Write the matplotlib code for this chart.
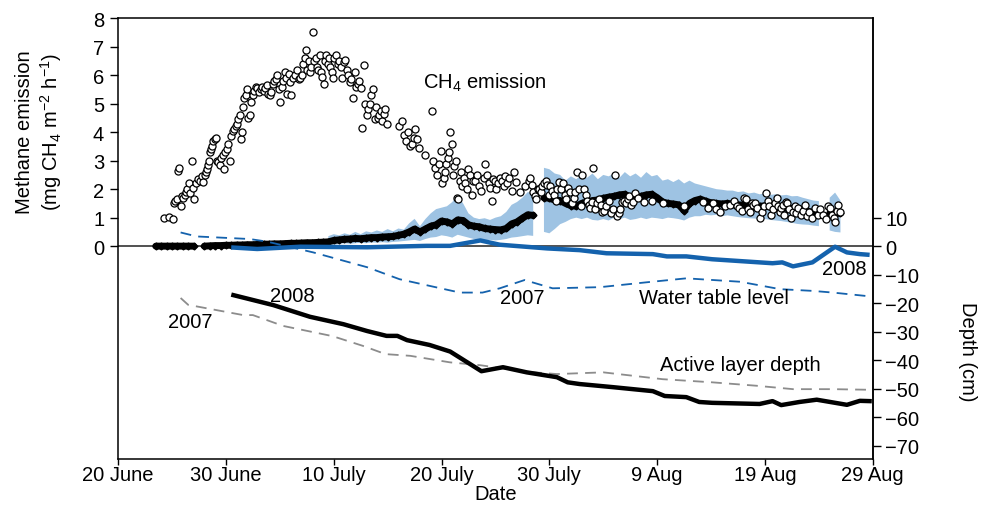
import numpy as np
import matplotlib
matplotlib.use('agg')
import matplotlib.pyplot as plt

plt.rcParams['font.family'] = ['Liberation Sans', 'DejaVu Sans']
plt.rcParams['mathtext.fontset'] = 'custom'
plt.rcParams['mathtext.rm'] = 'Liberation Sans'
plt.rcParams['mathtext.it'] = 'Liberation Sans:italic'
plt.rcParams['font.size'] = 14.5

# x axis: days after 20 June
tick_days = [0, 10, 20, 30, 40, 50, 60, 70]
tick_labels = ['20 June', '30 June', '10 July', '20 July', '30 July',
               '9 Aug', '19 Aug', '29 Aug']

# 2007 chamber fluxes (mg CH4 m-2 h-1), grouped by day
em07_days = list(range(4, 67))
em07_vals = [
    [1.0, 1.03],
    [0.95, 1.5, 1.6, 1.65, 2.65, 2.75, 1.4, 1.75],
    [1.7, 1.8, 1.9, 2.0, 2.2, 1.85, 3.0, 2.05],
    [1.65, 2.2, 2.35, 2.3, 2.45, 2.25],
    [2.5, 2.6, 2.7, 2.85, 3.0, 3.3, 3.4, 3.5, 3.7, 3.75],
    [3.8, 3.0, 2.95, 2.85, 3.1, 3.2, 2.7, 3.3],
    [3.4, 3.6, 3.0, 3.85, 4.05, 4.1, 4.2],
    [4.3, 4.45, 4.6, 3.75, 4.0, 4.9, 5.2, 5.3, 5.5],
    [4.5, 4.6, 5.05, 5.3, 5.45, 5.6, 5.55],
    [5.4, 5.5, 5.6, 5.45, 5.55, 5.65, 5.35],
    [5.3, 5.4, 5.7, 5.8, 5.85, 6.0, 5.5],
    [5.05, 5.6, 5.8, 6.1, 5.9, 5.35, 6.05, 5.75],
    [5.3, 5.9, 6.0, 6.2, 5.85, 5.9],
    [6.0, 6.4, 6.6, 6.9, 6.2, 6.5, 6.1, 6.3],
    [7.5, 6.5, 6.6, 6.3, 6.2, 6.7, 6.1, 5.95],
    [5.7, 6.5, 6.7, 6.4, 6.6, 6.3, 6.1, 5.9],
    [6.6, 6.7, 6.4, 6.5, 6.3, 5.9, 6.45],
    [6.55, 6.2, 6.0, 5.75, 5.85, 5.2, 6.1],
    [5.6, 5.7, 5.8, 5.55, 4.15, 6.35, 5.0],
    [4.6, 4.8, 5.0, 5.3, 5.5, 4.45, 4.9],
    [4.5, 4.6, 4.75, 4.4, 4.65, 4.8, 4.3],
    [],
    [4.2, 4.4, 3.9, 3.7, 4.0],
    [3.5, 3.6, 3.8, 4.1, 3.75, 3.45],
    [3.2],
    [4.75, 3.0, 2.75, 2.5, 2.9, 3.35],
    [2.2, 2.4, 2.6, 2.9, 3.1, 3.3, 4.0, 3.6],
    [2.5, 2.8, 3.0, 1.7, 1.65, 2.3, 2.6, 2.1],
    [2.4, 2.2, 2.0, 2.7, 2.5, 1.8, 2.3],
    [2.3, 2.5, 2.1, 1.95, 2.4],
    [2.87, 2.5, 2.2, 2.05, 1.6, 2.35, 2.3],
    [2.0, 2.2, 2.4, 2.3, 2.1, 2.45],
    [2.2, 2.4, 1.95, 2.6, 2.25],
    [1.9, 2.1],
    [2.3, 2.4, 2.15, 1.9, 1.75, 1.65, 2.0],
    [2.0, 1.9, 2.1, 2.2, 2.3, 2.15, 1.8],
    [2.1, 1.95, 1.8, 1.6, 2.0, 2.25],
    [2.0, 2.2, 1.8, 1.65, 2.05, 1.9],
    [1.5, 1.7, 1.9, 2.6, 2.0, 1.4],
    [2.5, 2.0, 1.8, 1.6, 1.45, 1.35, 1.55],
    [2.75, 1.3, 1.5, 1.65, 1.45, 1.2],
    [1.25, 1.4, 1.6, 1.15, 1.3],
    [2.5, 1.05, 1.15, 1.3, 1.55, 1.6],
    [1.5, 1.65, 1.75, 1.45, 1.55, 1.85],
    [1.7, 1.55],
    [1.6],
    [1.5],
    [],
    [1.4],
    [],
    [1.55, 1.35],
    [1.5, 1.3, 1.2],
    [1.4, 1.45],
    [1.6, 1.4, 1.35, 1.25],
    [1.7, 1.65, 1.3, 1.2, 1.5, 1.45],
    [1.5, 1.35, 1.0, 1.2, 1.4],
    [1.85, 1.6, 1.4, 1.1, 1.3, 1.5],
    [1.7, 1.4, 1.2, 1.35, 1.45, 1.1, 1.55],
    [1.5, 1.3, 1.0, 1.2, 1.4, 1.15],
    [1.35, 1.1, 1.25, 1.45, 1.05],
    [1.2, 1.0, 1.35, 1.1],
    [1.3, 1.1, 0.95, 1.4],
    [1.35, 1.1, 1.0, 0.85, 1.25, 1.45, 1.2],
]

# 2008 eddy covariance flux, half-day steps from day 3.5 (nan = no data)
em08_start = 3.5
em08_mid = [
    0.0, 0.0, 0.0, 0.0, 0.0, 0.0, 0.0, 0.0, np.nan, 0.0,
    0.01, 0.02, 0.02, 0.03, 0.03, 0.04, 0.04, 0.05, 0.05, 0.06,
    0.07, 0.07, 0.08, 0.08, 0.09, 0.10, 0.10, 0.11, 0.12, 0.12,
    0.13, 0.14, 0.15, 0.2, 0.22, 0.24, 0.25, 0.27, 0.26, 0.28,
    0.3, 0.3, 0.32, 0.33, 0.34, 0.38, 0.42, 0.5, 0.6, 0.5,
    0.6, 0.7, 0.75, 0.88, 0.85, 0.78, 0.92, 0.9, 0.75, 0.7,
    0.68, 0.62, 0.6, 0.58, 0.57, 0.62, 0.78, 0.85, 0.98, 1.1,
    1.08, np.nan, 1.7, 1.68, 1.62, 1.6, 1.5, 1.42, 1.4, 1.5,
    1.55, 1.6, 1.62, 1.68, 1.72, 1.75, 1.8, 1.82, 1.72, 1.7,
    1.75, 1.8, 1.82, 1.7, 1.55, 1.5, 1.48, 1.45, 1.25, 1.5,
    1.6, 1.65, 1.58, 1.52, 1.5, 1.48, 1.5, 1.48, 1.45, 1.44,
    1.42, 1.42, 1.4, 1.41, 1.38, 1.36, 1.35, 1.33, 1.32, 1.3,
    1.25, 1.22, 1.18, 1.12, np.nan, 1.15, 1.15, 1.15,
]
em08_lo = [np.nan] * 32 + [
    0.05, 0.05, 0.08, 0.1, 0.08, 0.1, 0.12, 0.1,
    0.13, 0.12, 0.14, 0.12, 0.15, 0.16, 0.18, 0.2, 0.22, 0.18,
    0.25, 0.3, 0.32, 0.38, 0.35, 0.3, 0.4, 0.35, 0.3, 0.25,
    0.22, 0.2, 0.22, 0.2, 0.22, 0.25, 0.3, 0.32, 0.35, 0.38,
    0.36, np.nan, 0.5, 0.45, 0.6, 0.77, 0.85, 0.95, 1.0, 0.95,
    1.0, 0.92, 0.9, 0.95, 0.9, 1.0, 0.95, 1.0, 0.92, 0.95,
    1.0, 0.95, 1.0, 0.98, 0.95, 1.0, 0.98, 0.95, 0.9, 1.0,
    1.05, 1.05, 1.1, 1.08, 1.1, 1.05, 1.08, 1.05, 1.02, 1.0,
    0.98, 0.97, 0.95, 0.95, 0.92, 0.9, 0.88, 0.85, 0.82, 0.78,
    0.76, 0.75, 0.72, 0.7, np.nan, 0.55, 0.5, 0.48,
]
em08_hi = [np.nan] * 32 + [
    0.35, 0.42, 0.38, 0.45, 0.4, 0.5, 0.42, 0.52,
    0.48, 0.55, 0.5, 0.6, 0.52, 0.62, 0.58, 0.8, 0.96, 0.7,
    0.95, 1.15, 1.3, 1.35, 1.4, 1.55, 1.8, 1.5, 1.15, 1.0,
    0.95, 0.98, 0.92, 1.0, 1.05, 1.2, 1.45, 1.55, 1.7, 1.9,
    1.85, np.nan, 2.75, 2.7, 2.55, 2.5, 2.3, 2.45, 2.35, 2.5,
    2.4, 2.55, 2.35, 2.5, 2.45, 2.55, 2.4, 2.6, 2.45, 2.55,
    2.4, 2.6, 2.45, 2.5, 2.3, 2.35, 2.25, 2.35, 2.2, 2.3,
    2.2, 2.15, 2.1, 2.05, 2.0, 1.98, 1.95, 1.95, 1.9, 1.92,
    1.85, 1.88, 1.82, 1.85, 1.8, 1.82, 1.78, 1.8, 1.75, 1.76,
    1.7, 1.65, 1.6, 1.58, np.nan, 1.7, 1.88, 1.6,
]

# active layer depth (cm)
al08_day = [10.7, 14.4, 17.8, 20.9, 23.1, 24.9, 25.9, 26.8, 28.9, 30.8,
            33.7, 35.7, 37.9, 40.7, 41.7, 42.8, 45.9, 49.6, 50.7, 52.7,
            53.9, 55.1, 59.5, 60.7, 61.5, 63.2, 64.8, 67.6, 68.8, 69.7]
al08_depth = [-17.2, -20.7, -24.8, -27.4, -29.8, -31.5, -31.5, -33.0, -34.7, -37.0,
              -43.9, -42.5, -44.3, -46.0, -47.8, -48.4, -49.5, -50.9, -52.6, -53.0,
              -54.7, -55.0, -55.4, -54.4, -55.8, -54.7, -53.9, -55.7, -54.3, -54.4]
al07_day = [5.8, 6.5, 11.6, 12.5, 15.3, 19.9, 22.7, 24.8, 27.1, 30.8,
            33.6, 37.9, 40.7, 45.0, 50.5, 55.1, 59.2, 62.6, 66.3, 69.4]
al07_depth = [-18.2, -20.6, -24.2, -24.2, -28.0, -31.6, -35.0, -37.9, -38.5, -40.8,
              -41.8, -44.1, -44.9, -44.3, -46.7, -47.8, -49.0, -50.2, -50.2, -50.4]

# water table level (cm)
wt08_day = [10.7, 12.9, 16.9, 23.1, 28.6, 30.8, 33.6, 35.4, 39.8, 42.8,
            45.3, 49.6, 50.9, 52.7, 55.1, 60.7, 61.6, 62.6, 64.4, 66.5,
            67.6, 68.8, 69.5]
wt08_level = [-0.5, -1.0, -0.2, -0.4, 0.1, 0.1, 2.0, 0.5, -0.8, -1.4,
              -2.5, -2.8, -3.6, -3.6, -4.6, -6.0, -5.7, -7.1, -5.7, -0.2,
              -2.2, -2.8, -3.0]
wt07_day = [5.8, 7.3, 12.2, 13.8, 18.1, 23.1, 26.1, 31.7, 33.8, 35.4,
            37.7, 40.3, 44.7, 49.0, 52.7, 57.7, 61.4, 64.4, 66.3, 69.4]
wt07_level = [4.8, 3.4, 2.5, 1.6, -2.2, -7.4, -11.6, -16.3, -16.3, -14.8,
              -11.9, -14.8, -14.4, -12.7, -11.3, -12.5, -15.1, -15.7, -16.3, -17.5]

depth_ticks = [10, 0, -10, -20, -30, -40, -50, -60, -70]

blue = '#1462ad'
band_blue = '#9ec3e3'

fig = plt.figure(figsize=(9.84, 5.06), dpi=100)
ax = fig.add_axes([0.120, 0.091, 0.767, 0.871])

# 2008 flux with its uncertainty band
em08_day = em08_start + 0.5 * np.arange(len(em08_mid))
ax.fill_between(em08_day, em08_lo, em08_hi, color=band_blue, lw=0, zorder=1)
ax.axhline(0, color='#333333', lw=1.2, zorder=1.5)
ax.plot(em08_day, em08_mid, color='black', lw=5, marker='D', ms=3.5,
        solid_capstyle='round', zorder=2)

# 2007 fluxes as open circles, spread over each day
xs, ys = [], []
for d, vals in zip(em07_days, em07_vals):
    n = len(vals)
    for k, v in enumerate(vals):
        xs.append(d + (k + 0.5) / n)
        ys.append(v)
ax.scatter(xs, ys, s=26, facecolors='white', edgecolors='black',
           linewidths=0.9, zorder=3)

ax.set_xlim(0, 70)
ax.set_ylim(-7.47, 8)
ax.set_yticks(range(0, 9))
ax.set_xticks(tick_days)
ax.set_xticklabels(tick_labels)
ax.tick_params(axis='y', direction='out', length=6, width=1, pad=4)
ax.tick_params(axis='x', direction='out', length=4, width=1, pad=0)
for s in ax.spines.values():
    s.set_linewidth(1.1)

fig.text(0.504, 0.012, 'Date', ha='center', va='baseline')
ax.text(-0.104, 4.05, 'Methane emission\n(mg CH$_4$ m$^{-2}$ h$^{-1}$)',
        transform=ax.get_yaxis_transform(), rotation=90,
        ha='center', va='center', multialignment='center', linespacing=1.2)
ax.text(28.3, 5.78, 'CH$_4$ emission', ha='left', va='center')

# depth axis, 10 cm per flux unit
ax2 = ax.twinx()
ax2.set_ylim(-74.7, 80)
ax2.set_yticks(depth_ticks)
ax2.tick_params(direction='out', length=6, width=1, pad=3)
for side in ['left', 'top', 'bottom']:
    ax2.spines[side].set_visible(False)
ax2.spines['right'].set_linewidth(1.1)

ax2.plot(al07_day, al07_depth, color='#8c8c8c', lw=1.3, ls=(0, (6, 4)))
ax2.plot(wt07_day, wt07_level, color=blue, lw=1.3, ls=(0, (6, 4)))
ax2.plot(al08_day, al08_depth, color='black', lw=3.2, solid_joinstyle='round')
ax2.plot(wt08_day, wt08_level, color=blue, lw=3.2, solid_joinstyle='round')

ax2.text(16.2, -17.5, '2008', ha='center', va='center')
ax2.text(6.7, -26.3, '2007', ha='center', va='center')
ax2.text(37.5, -18.2, '2007', ha='center', va='center')
ax2.text(55.3, -18.2, 'Water table level', ha='center', va='center')
ax2.text(67.4, -7.7, '2008', ha='center', va='center')
ax2.text(57.7, -41.4, 'Active layer depth', ha='center', va='center')
ax2.text(1.126, -36.8, 'Depth (cm)', transform=ax2.get_yaxis_transform(),
         rotation=270, ha='center', va='center')

fig.savefig('out.png', dpi=100)
